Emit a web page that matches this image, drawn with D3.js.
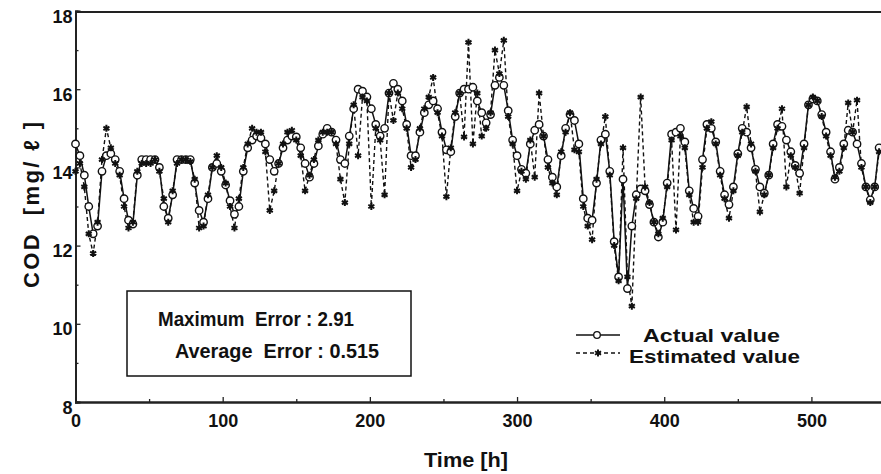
<!DOCTYPE html>
<html>
<head>
<meta charset="utf-8">
<script src="https://cdn.jsdelivr.net/npm/d3@7"></script>
<style>
  body { margin: 0; background: #fff; }
  svg text { font-family: "Liberation Sans", Arial, sans-serif; font-weight: bold; fill: #111; white-space: pre; }
</style>
</head>
<body>
<svg id="chart" width="881" height="474"></svg>
<script>
// sampling grid: every 3 hours, 0..546 h
var hours = d3.range(0, 547, 3);

// measured COD [mg/l]
var actualValues = [
  14.6, 14.3, 13.8, 13.0, 12.3, 12.5, 13.9, 14.3, 14.35, 14.2,
  13.9, 13.2, 12.65, 12.55, 13.8, 14.2, 14.2, 14.2, 14.2, 14.0,
  13.0, 12.7, 13.3, 14.2, 14.2, 14.2, 14.2, 13.6, 12.9, 12.6,
  13.2, 14.0, 14.1, 13.9, 13.55, 13.15, 12.8, 13.0, 13.9, 14.5,
  14.7, 14.8, 14.75, 14.6, 14.2, 13.9, 14.1, 14.5, 14.7, 14.8,
  14.78, 14.5, 14.1, 13.75, 14.1, 14.55, 14.85, 15.0, 14.9, 14.7,
  14.2, 14.1, 14.8, 15.5, 16.0, 15.95, 15.8, 15.5, 15.1, 14.8,
  15.0, 15.9, 16.15, 16.0, 15.7, 15.1, 14.3, 14.3, 14.9, 15.4,
  15.6, 15.7, 15.5, 14.9, 14.45, 14.4, 15.3, 15.9, 16.0, 16.0,
  16.05, 15.7, 15.4, 15.14, 15.35, 16.1, 16.3, 16.1, 15.45, 14.7,
  14.3, 13.95, 13.85, 14.6, 14.95, 15.1, 14.8, 14.2, 13.75, 13.5,
  14.3, 15.0, 15.35, 15.2, 14.6, 13.2, 12.7, 12.65, 13.6, 14.7,
  14.85, 13.9, 12.1, 11.2, 13.7, 10.9, 12.5, 13.3, 13.45, 13.4,
  13.05, 12.6, 12.22, 12.6, 13.6, 14.85, 14.9, 15.0, 14.65, 13.4,
  12.95, 12.75, 14.2, 15.1, 15.0, 14.65, 13.9, 13.3, 13.05, 13.5,
  14.35, 15.0, 14.9, 14.5, 13.95, 13.5, 13.34, 13.8, 14.6, 15.1,
  15.05, 14.7, 14.4, 14.05, 13.85, 14.6, 15.6, 15.75, 15.7, 15.35,
  14.9, 14.4, 13.7, 14.0, 14.6, 14.95, 14.9, 14.6, 14.1, 13.5,
  13.17, 13.5, 14.5
];

// model output
var estimatedValues = [
  13.9, 14.1, 13.5, 12.3, 11.8, 12.6, 14.2, 15.0, 14.5, 14.1,
  13.8, 13.0, 12.45, 12.6, 13.9, 14.1, 14.1, 14.1, 14.2, 13.9,
  13.2, 12.6, 13.4, 14.1, 14.2, 14.2, 14.15, 13.7, 12.45, 12.5,
  13.3, 14.0, 14.3, 14.0, 13.6, 13.0, 12.45, 13.2, 14.0, 14.6,
  15.0, 14.9, 14.9, 14.4, 12.9, 13.4, 14.1, 14.6, 14.9, 14.95,
  14.7, 14.3, 13.4, 13.8, 14.2, 14.7, 14.9, 14.9, 14.9, 14.6,
  13.7, 13.1, 14.6, 15.6, 14.3, 15.8, 15.7, 13.0, 15.0, 14.7,
  13.3, 15.9, 15.2, 15.9, 15.5, 15.0, 14.0, 14.2, 15.0, 15.5,
  15.8, 16.3, 15.4, 14.8, 13.25, 14.5, 15.4, 15.9, 14.78, 17.2,
  14.6, 15.9, 14.8, 15.0, 15.4, 17.0, 16.4, 17.25, 15.3, 14.6,
  13.4, 13.9, 13.7, 14.7, 13.75, 15.9, 14.8, 14.0, 13.6, 13.3,
  14.4, 14.9, 15.4, 14.45, 14.4, 13.0, 12.5, 12.15, 13.7, 14.6,
  15.3, 13.8, 12.0, 11.1, 14.5, 11.2, 10.45, 13.2, 15.8, 13.5,
  13.1, 12.6, 12.3, 12.7, 13.5, 14.7, 12.4, 14.8, 14.5, 13.3,
  12.6, 12.6, 14.0, 15.0, 15.17, 14.6, 13.8, 13.2, 12.7, 13.4,
  14.3, 14.9, 15.55, 14.6, 13.9, 12.86, 13.3, 13.8, 14.5, 15.0,
  15.5, 13.5, 14.3, 14.0, 13.34, 14.5, 15.6, 15.8, 15.7, 15.3,
  14.8, 14.3, 13.75, 13.9, 14.5, 15.65, 14.9, 15.72, 14.0, 13.5,
  13.1, 13.5, 14.4
];

var xTicks = [0, 100, 200, 300, 400, 500];
var yTicks = [8, 10, 12, 14, 16, 18];
var boxLines = ["Maximum  Error : 2.91", "Average  Error : 0.515"];
var legendLabels = ["Actual value", "Estimated value"];

var svg = d3.select("#chart");
var x = d3.scaleLinear().domain([0, 550]).range([75.5, 885]);
var y = d3.scaleLinear().domain([8, 18]).range([402, 11]);

var actual = hours.map(function(h, i){ return {t: h, v: actualValues[i]}; });
var estimated = hours.map(function(h, i){ return {t: h, v: estimatedValues[i]}; });

// frame top line
svg.append("line")
  .attr("x1", x(0)).attr("x2", 881)
  .attr("y1", y(18) + 1).attr("y2", y(18) + 1)
  .attr("stroke", "#222").attr("stroke-width", 1.8);

// axes (ticks point inward)
var yAxis = svg.append("g")
  .attr("transform", "translate(" + x(0) + ",0)")
  .call(d3.axisLeft(y).tickValues(yTicks).tickSize(-5).tickPadding(3));
svg.append("g")
  .attr("transform", "translate(" + x(0) + ",0)")
  .call(d3.axisLeft(y).tickValues([9, 11, 13, 15, 17]).tickSize(-3).tickFormat(""));
var xAxis = svg.append("g")
  .attr("transform", "translate(0," + y(8) + ")")
  .call(d3.axisBottom(x).tickValues(xTicks).tickSize(-5).tickPadding(12));
svg.append("g")
  .attr("transform", "translate(0," + y(8) + ")")
  .call(d3.axisBottom(x).tickValues([50, 150, 250, 350, 450, 550]).tickSize(-3).tickFormat(""));

svg.selectAll(".domain").attr("stroke", "#222").attr("stroke-width", 1.8);
svg.selectAll(".tick line").attr("stroke", "#222").attr("stroke-width", 1.3);
yAxis.selectAll("text").style("font-size", "18px").attr("dy", "0.62em").attr("x", -3);
xAxis.selectAll("text").style("font-size", "18px");

// axis titles
svg.append("text")
  .attr("transform", "translate(39,205) rotate(-90)")
  .attr("text-anchor", "middle")
  .attr("textLength", 166)
  .style("font-size", "22px")
  .text("COD  [mg/ ℓ ]");
svg.append("text")
  .attr("x", 466).attr("y", 467)
  .attr("text-anchor", "middle")
  .attr("textLength", 84)
  .attr("lengthAdjust", "spacingAndGlyphs")
  .style("font-size", "21px")
  .text("Time [h]");

var line = d3.line()
  .x(function(d){ return x(d.t); })
  .y(function(d){ return y(d.v); });

var plot = svg.append("g");

// estimated: dashed line
plot.append("path")
  .datum(estimated)
  .attr("d", line)
  .attr("fill", "none")
  .attr("stroke", "#111")
  .attr("stroke-width", 1.4)
  .attr("stroke-dasharray", "4,3");

// actual: solid line with open circles
plot.append("path")
  .datum(actual)
  .attr("d", line)
  .attr("fill", "none")
  .attr("stroke", "#111")
  .attr("stroke-width", 1.5);

plot.selectAll("circle.act")
  .data(actual)
  .enter().append("circle")
  .attr("class", "act")
  .attr("cx", function(d){ return x(d.t); })
  .attr("cy", function(d){ return y(d.v); })
  .attr("r", 3.7)
  .attr("fill", "#fff")
  .attr("stroke", "#111")
  .attr("stroke-width", 1.4);

var star = d3.symbol().type(d3.symbolAsterisk).size(34);
plot.selectAll("path.est")
  .data(estimated)
  .enter().append("path")
  .attr("class", "est")
  .attr("d", star)
  .attr("transform", function(d){ return "translate(" + x(d.t) + "," + y(d.v) + ")"; })
  .attr("fill", "none")
  .attr("stroke", "#111")
  .attr("stroke-width", 2);

// error box
svg.append("rect")
  .attr("x", 127).attr("y", 291)
  .attr("width", 284).attr("height", 85)
  .attr("fill", "#fff")
  .attr("stroke", "#111")
  .attr("stroke-width", 1.5);
svg.append("text").attr("x", 158).attr("y", 326)
  .attr("textLength", 196).attr("lengthAdjust", "spacingAndGlyphs")
  .style("font-size", "21px").text(boxLines[0]);
svg.append("text").attr("x", 175).attr("y", 358)
  .attr("textLength", 204).attr("lengthAdjust", "spacingAndGlyphs")
  .style("font-size", "21px").text(boxLines[1]);

// legend
var lg = svg.append("g");
lg.append("line").attr("x1", 576).attr("x2", 620).attr("y1", 335).attr("y2", 335)
  .attr("stroke", "#111").attr("stroke-width", 1.6);
lg.append("circle").attr("cx", 597).attr("cy", 335).attr("r", 3.3)
  .attr("fill", "#fff").attr("stroke", "#111").attr("stroke-width", 1.3);
lg.append("text").attr("x", 643).attr("y", 342)
  .attr("textLength", 137).attr("lengthAdjust", "spacingAndGlyphs")
  .style("font-size", "19px").text(legendLabels[0]);

lg.append("line").attr("x1", 576).attr("x2", 620).attr("y1", 353).attr("y2", 353)
  .attr("stroke", "#111").attr("stroke-width", 1.5).attr("stroke-dasharray", "4,3");
lg.append("path").attr("d", star)
  .attr("transform", "translate(598,353)")
  .attr("fill", "none").attr("stroke", "#111").attr("stroke-width", 2);
lg.append("text").attr("x", 629).attr("y", 363)
  .attr("textLength", 171).attr("lengthAdjust", "spacingAndGlyphs")
  .style("font-size", "19px").text(legendLabels[1]);
</script>
</body>
</html>
